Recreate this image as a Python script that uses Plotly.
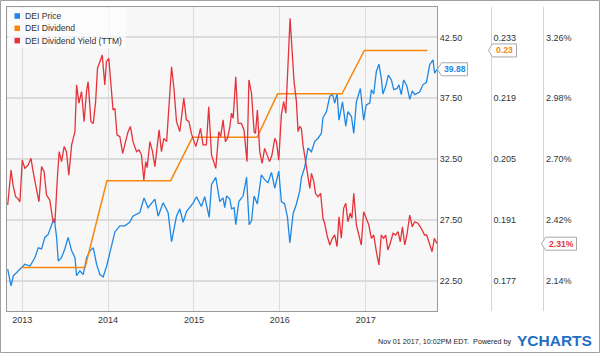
import plotly.graph_objects as go

# ---------------- data ----------------
price_dates = ["2012-10-31","2012-11-14","2012-11-24","2012-12-08","2012-12-29","2013-01-12","2013-02-03","2013-02-24","2013-03-10","2013-03-24",
"2013-04-07","2013-04-21","2013-05-06","2013-05-17","2013-05-27","2013-06-03","2013-06-17","2013-07-01","2013-07-15","2013-07-30",
"2013-08-13","2013-08-20","2013-09-03","2013-09-17","2013-10-02","2013-10-16","2013-10-30","2013-11-13","2013-11-27","2013-12-11",
"2013-12-26","2014-01-09","2014-01-30","2014-02-20","2014-03-13","2014-04-03","2014-04-16","2014-05-16","2014-06-03","2014-06-20",
"2014-07-19","2014-08-02","2014-08-23","2014-09-13","2014-09-28","2014-10-19","2014-11-02","2014-11-16","2014-12-01","2014-12-29",
"2015-01-12","2015-02-02","2015-02-16","2015-03-07","2015-03-17","2015-04-04","2015-04-21","2015-05-05","2015-05-12","2015-05-20",
"2015-06-03","2015-06-10","2015-06-21","2015-06-28","2015-07-11","2015-07-29","2015-08-13","2015-08-24","2015-09-03","2015-09-14",
"2015-09-28","2015-10-15","2015-10-29","2015-11-12","2015-11-27","2015-12-11","2015-12-28","2016-01-08","2016-01-22","2016-02-03",
"2016-02-13","2016-02-27","2016-03-12","2016-03-26","2016-04-02","2016-04-16","2016-04-30","2016-05-15","2016-05-29","2016-06-12",
"2016-06-26","2016-07-03","2016-07-18","2016-08-01","2016-08-12","2016-08-22","2016-09-01","2016-09-09","2016-09-24","2016-10-08",
"2016-10-17","2016-11-01","2016-11-11","2016-11-22","2016-12-09","2016-12-23","2017-01-03","2017-01-18","2017-01-25","2017-02-04",
"2017-02-15","2017-02-26","2017-03-08","2017-03-15","2017-03-27","2017-04-07","2017-04-20","2017-04-30","2017-05-14","2017-05-22",
"2017-06-01","2017-06-11","2017-06-25","2017-07-07","2017-07-18","2017-07-28","2017-08-18","2017-09-01","2017-09-16","2017-09-30",
"2017-10-14","2017-10-21","2017-10-31"]
price_vals = [23.44,22.07,22.9,23.17,23.58,23.85,23.7,24.4,25.2,25.1,
26.05,26.3,27.1,27.6,26.05,24.1,24.4,25.1,26.05,24.95,
24.4,22.9,23.3,23.0,24.4,24.95,25.2,23.85,23.0,22.8,
23.7,24.8,26.5,27.0,27.0,27.3,27.8,28.1,29.3,28.5,
29.2,27.8,28.9,28.1,25.7,27.8,28.4,27.3,28.2,28.9,
29.4,28.6,29.4,27.7,30.4,31.0,29.0,29.3,28.5,29.45,
29.2,28.4,28.5,27.1,29.0,29.45,31.0,27.1,27.4,29.45,
28.8,31.2,30.8,30.55,31.4,30.1,31.5,29.0,28.8,27.7,
25.6,28.0,28.8,29.85,30.95,31.8,33.4,33.1,33.96,34.2,
34.6,35.9,36.4,37.65,37.85,37.1,37.9,35.7,37.2,35.2,
36.4,36.0,34.6,37.2,38.3,35.7,36.95,37.1,38.2,37.85,
39.7,40.3,39.15,37.85,38.5,39.4,39.0,38.2,38.3,38.6,
37.8,39.0,38.5,37.4,38.1,37.8,38.0,38.6,38.8,40.25,
40.65,39.55,39.88]

div_dates = ["2012-12-28","2013-03-27","2013-06-26","2013-09-25","2013-12-27","2014-03-27","2014-06-26","2014-09-24",
"2014-12-26","2015-03-27","2015-06-26","2015-09-27","2015-12-23","2016-03-29","2016-06-28","2016-09-22",
"2016-12-26","2017-03-29","2017-06-28","2017-09-20"]
div_vals = [0.18,0.18,0.18,0.18,0.20,0.20,0.20,0.20,
0.21,0.21,0.21,0.21,0.22,0.22,0.22,0.22,
0.23,0.23,0.23,0.23]

yield_dates = ["2012-10-31","2012-11-14","2012-11-24","2012-12-04","2012-12-12","2012-12-22","2013-01-01","2013-01-12","2013-01-26","2013-02-07",
"2013-02-16","2013-03-03","2013-03-13","2013-03-24","2013-04-04","2013-04-14","2013-04-28","2013-05-12","2013-05-20","2013-05-31",
"2013-06-07","2013-06-17","2013-06-28","2013-07-08","2013-07-18","2013-07-30","2013-08-13","2013-08-20","2013-08-30","2013-09-10",
"2013-09-21","2013-10-02","2013-10-08","2013-10-20","2013-10-30","2013-11-09","2013-11-17","2013-11-27","2013-12-07","2013-12-18",
"2013-12-25","2014-01-04","2014-01-13","2014-01-22","2014-01-30","2014-02-08","2014-02-20","2014-03-04","2014-03-13","2014-03-27",
"2014-04-06","2014-04-17","2014-05-02","2014-05-13","2014-05-23","2014-06-02","2014-06-10","2014-06-16","2014-06-28","2014-07-09",
"2014-07-19","2014-08-06","2014-08-16","2014-08-26","2014-09-07","2014-09-18","2014-09-28","2014-10-08","2014-10-19","2014-11-02",
"2014-11-19","2014-11-30","2014-12-11","2014-12-21","2015-01-09","2015-01-19","2015-01-29","2015-02-09","2015-02-23","2015-03-05",
"2015-03-17","2015-03-26","2015-04-04","2015-04-17","2015-04-25","2015-05-05","2015-05-15","2015-05-24","2015-06-03","2015-06-10",
"2015-06-17","2015-06-28","2015-07-08","2015-07-22","2015-08-02","2015-08-15","2015-08-23","2015-09-03","2015-09-14","2015-09-20",
"2015-09-28","2015-10-08","2015-10-18","2015-10-29","2015-11-10","2015-11-19","2015-11-29","2015-12-11","2015-12-18","2015-12-28",
"2016-01-08","2016-01-18","2016-01-27","2016-02-05","2016-02-14","2016-02-22","2016-03-02","2016-03-12","2016-03-19","2016-03-26",
"2016-04-02","2016-04-09","2016-04-19","2016-04-28","2016-05-08","2016-05-15","2016-05-25","2016-06-01","2016-06-12","2016-06-23",
"2016-07-03","2016-07-10","2016-07-20","2016-08-01","2016-08-12","2016-08-22","2016-09-01","2016-09-09","2016-09-19","2016-09-29",
"2016-10-08","2016-10-17","2016-10-27","2016-11-03","2016-11-11","2016-11-22","2016-12-03","2016-12-13","2016-12-23","2017-01-03",
"2017-01-14","2017-01-25","2017-02-04","2017-02-15","2017-02-26","2017-03-08","2017-03-18","2017-03-27","2017-04-05","2017-04-15",
"2017-04-27","2017-05-08","2017-05-18","2017-05-28","2017-06-06","2017-06-16","2017-06-25","2017-07-07","2017-07-18","2017-07-28",
"2017-08-11","2017-08-25","2017-09-08","2017-09-17","2017-09-29","2017-10-10","2017-10-20","2017-10-31"]
yield_vals = [2.488,2.649,2.573,2.526,2.52,2.503,2.695,2.657,2.672,2.703,
2.642,2.565,2.503,2.665,2.642,2.534,2.511,2.411,2.411,2.626,
2.734,2.688,2.757,2.734,2.626,2.765,2.826,3.041,2.957,3.01,
2.872,3.018,3.056,2.872,2.864,2.964,3.118,3.148,3.179,3.041,
3.148,3.164,3.026,2.926,2.933,2.811,2.803,2.726,2.765,2.826,
2.849,2.78,2.734,2.742,2.718,2.603,2.688,2.66,2.78,2.734,
2.665,2.834,2.734,2.795,2.78,2.949,3.125,3.026,2.872,2.826,
2.98,2.88,2.872,2.818,2.757,2.795,2.841,2.765,2.765,2.941,
2.718,2.688,2.657,2.826,2.803,2.88,2.78,2.795,2.849,2.911,
2.887,3.079,2.864,2.864,2.834,2.688,3.064,3.003,2.826,2.818,
2.926,2.734,2.68,2.749,2.718,2.688,2.718,2.795,2.78,2.695,
2.903,2.964,2.911,3.164,3.348,3.21,3.056,2.964,2.826,2.849,
2.841,2.765,2.688,2.626,2.565,2.634,2.596,2.542,2.526,2.542,
2.427,2.404,2.35,2.304,2.335,2.35,2.296,2.434,2.335,2.473,
2.496,2.411,2.45,2.427,2.542,2.396,2.35,2.304,2.457,2.427,
2.396,2.335,2.35,2.273,2.212,2.35,2.335,2.35,2.281,2.312,
2.358,2.35,2.365,2.319,2.388,2.304,2.35,2.442,2.388,2.411,
2.404,2.381,2.35,2.35,2.304,2.273,2.335,2.31]

year_ticks = ["2013-01-01", "2014-01-01", "2015-01-01", "2016-01-01", "2017-01-01"]
year_labels = ["2013", "2014", "2015", "2016", "2017"]
price_ticks = [22.5, 27.5, 32.5, 37.5, 42.5]
price_labels = ["22.50", "27.50", "32.50", "37.50", "42.50"]
div_ticks = [0.177, 0.191, 0.205, 0.219, 0.233]
div_labels = ["0.177", "0.191", "0.205", "0.219", "0.233"]
yield_ticks = [2.14, 2.42, 2.70, 2.98, 3.26]
yield_labels = ["2.14%", "2.42%", "2.70%", "2.98%", "3.26%"]

series_names = ["DEI Price", "DEI Dividend", "DEI Dividend Yield (TTM)"]
BLUE, ORANGE, RED = "#1e88e5", "#f7870f", "#e5333b"
colors = [BLUE, ORANGE, RED]

# ---------------- geometry (pixels of a 600x353 page) ----------------
W, H = 600, 353
ML, MR, MT, MB = 7, 5, 7, 42
PW, PH = W - ML - MR, H - MT - MB
def px(x):  # page pixel -> paper x
    return (x - ML) / PW
def py(y):  # page pixel -> paper y
    return (H - MB - y) / PH

FONT = "Liberation Sans, Arial, sans-serif"
TXT = "#333333"

fig = go.Figure()
fig.add_trace(go.Scatter(x=yield_dates, y=yield_vals, yaxis="y3", mode="lines",
                         line=dict(color=RED, width=1.3), name=series_names[2], showlegend=False))
fig.add_trace(go.Scatter(x=div_dates, y=div_vals, yaxis="y2", mode="lines",
                         line=dict(color=ORANGE, width=1.5), name=series_names[1], showlegend=False))
fig.add_trace(go.Scatter(x=price_dates, y=price_vals, yaxis="y", mode="lines",
                         line=dict(color=BLUE, width=1.3), name=series_names[0], showlegend=False))

dom_end = px(437)
fig.update_layout(
    width=W, height=H,
    margin=dict(l=ML, r=MR, t=MT, b=MB),
    paper_bgcolor="white", plot_bgcolor="#f7f7f7",
    font=dict(family=FONT, size=9, color=TXT),
    showlegend=False,
    xaxis=dict(domain=[0, dom_end], type="date", range=["2012-10-28", "2017-10-31"],
               tickvals=year_ticks, ticktext=year_labels, showgrid=True,
               gridcolor="#dcdcdc", gridwidth=1, ticks="", showline=True,
               linecolor="#9a9a9a", linewidth=1, mirror=True, zeroline=False,
               tickfont=dict(size=9, color=TXT)),
    yaxis=dict(side="right", range=[20, 45], tickvals=price_ticks, ticktext=price_labels,
               showgrid=True, gridcolor="#dcdcdc", gridwidth=1.5, zeroline=False,
               showline=True, linecolor="#9a9a9a", mirror=True, ticks="",
               tickfont=dict(size=9, color=TXT)),
    yaxis2=dict(overlaying="y", anchor="free", position=px(490.7), side="right",
                range=[0.170, 0.240], tickvals=div_ticks, ticktext=div_labels,
                showgrid=False, zeroline=False, showline=True, linecolor="#d4d4d4",
                ticks="", tickfont=dict(size=9, color=TXT)),
    yaxis3=dict(overlaying="y", anchor="free", position=px(543.3), side="right",
                range=[2.00, 3.40], tickvals=yield_ticks, ticktext=yield_labels,
                showgrid=False, zeroline=False, showline=True, linecolor="#d4d4d4",
                ticks="", tickfont=dict(size=9, color=TXT)),
)

shapes = []
annotations = []
# outer frame
shapes.append(dict(type="rect", xref="paper", yref="paper",
                   x0=px(0.5), x1=px(599.5), y0=py(352.5), y1=py(0.5),
                   line=dict(color="#a0a0a0", width=1), fillcolor="rgba(0,0,0,0)", layer="above"))
# legend background
shapes.append(dict(type="rect", xref="paper", yref="paper",
                   x0=px(8), x1=px(126), y0=py(48), y1=py(8),
                   line=dict(width=0), fillcolor="rgba(255,255,255,0.65)", layer="above"))
rows = [16, 28.3, 40.6]
for name, c, r in zip(series_names, colors, rows):
    shapes.append(dict(type="rect", xref="paper", yref="paper",
                       x0=px(14.5), x1=px(20), y0=py(r + 2.8), y1=py(r - 2.8),
                       line=dict(width=0), fillcolor=c, layer="above"))
    annotations.append(dict(xref="paper", yref="paper", x=px(23), y=py(r), text=name,
                            showarrow=False, xanchor="left", yanchor="middle",
                            font=dict(family=FONT, size=8.6, color=TXT)))

# last value tags (pointed boxes anchored at the last value on each axis)
tags = [(price_vals[-1], "y", 437.5, 26, f"{price_vals[-1]:.2f}", BLUE),
        (div_vals[-1], "y2", 488.5, 24, f"{div_vals[-1]:.2f}", ORANGE),
        (yield_vals[-1], "y3", 541.5, 31, f"{yield_vals[-1]:.2f}%", RED)]
for val, yref, tip, bw, txt, c in tags:
    path = f"M 0 0 L 4 6.5 L {4 + bw} 6.5 L {4 + bw} -6.5 L 4 -6.5 Z"
    shapes.append(dict(type="path", xref="paper", yref=yref, xsizemode="pixel", ysizemode="pixel",
                       xanchor=px(tip), yanchor=val, path=path, fillcolor="white",
                       line=dict(color="#a8a8a8", width=1), layer="above"))
    annotations.append(dict(xref="paper", yref=yref, x=px(tip + 4 + bw / 2), y=val, text=f"<b>{txt}</b>",
                            showarrow=False, xanchor="center", yanchor="middle",
                            font=dict(family=FONT, size=8.6, color=c)))

# footer
annotations.append(dict(xref="paper", yref="paper", x=px(513), y=py(341), text="Nov 01 2017, 10:02PM EDT.  Powered by",
                        showarrow=False, xanchor="right", yanchor="middle",
                        font=dict(family=FONT, size=7.2, color="#222222")))
annotations.append(dict(xref="paper", yref="paper", x=px(515), y=py(340), text="<b>YCHARTS</b>",
                        showarrow=False, xanchor="left", yanchor="middle",
                        font=dict(family=FONT, size=15.5, color="#1f6fc4")))

fig.update_layout(shapes=shapes, annotations=annotations)
fig.write_html("out.html")
